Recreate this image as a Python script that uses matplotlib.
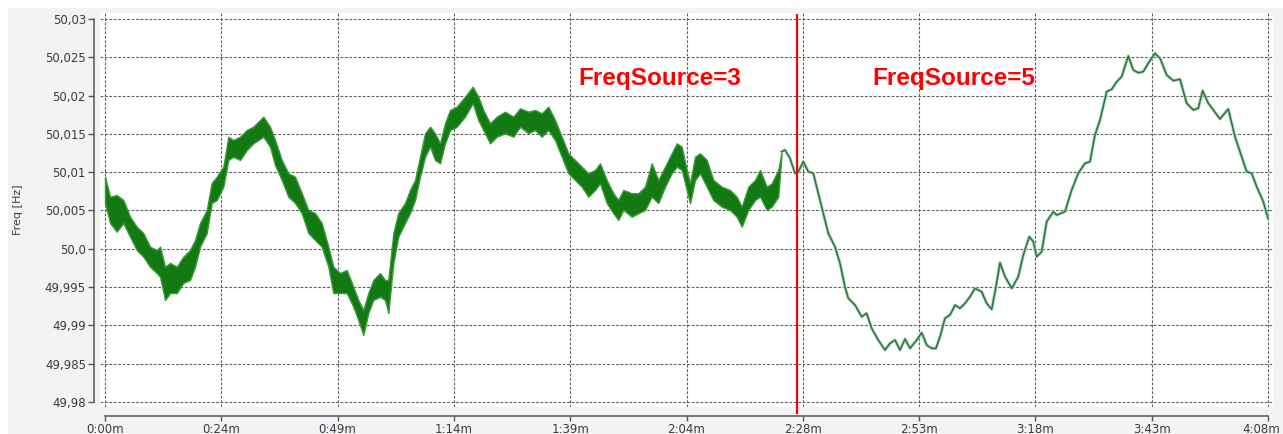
import matplotlib
matplotlib.use("Agg")
from matplotlib import pyplot as plt
from matplotlib.patches import Rectangle
from matplotlib.transforms import ScaledTranslation

# first section (FreqSource=3) is very noisy: kept as upper / lower envelope
noisy_t = [0.00, 1.07, 2.49, 3.90, 5.33, 6.76, 8.17, 9.60, 11.02, 11.73,
           12.79, 13.86, 15.29, 16.70, 18.13, 19.19, 20.26, 21.69, 22.75, 23.82,
           25.23, 26.29, 27.36, 28.79, 30.22, 31.62, 33.76, 35.18, 36.25, 37.68,
           39.09, 40.52, 41.94, 43.35, 44.78, 46.21, 47.62, 48.68, 50.11, 51.54,
           52.95, 54.01, 55.08, 56.15, 57.21, 58.64, 59.71, 60.41, 61.48, 62.54,
           63.97, 65.04, 66.11, 67.17, 68.24, 69.31, 70.37, 71.44, 72.50, 73.57,
           75.00, 76.77, 78.41, 79.60, 80.67, 82.10, 83.53, 85.30, 87.07, 88.50,
           90.27, 91.70, 93.12, 94.53, 95.96, 97.39, 98.80, 100.22, 101.65, 103.06,
           104.49, 105.55, 106.98, 108.39, 109.46, 110.52, 112.31, 113.72, 115.15, 116.58,
           117.99, 119.42, 120.84, 121.91, 122.98, 124.04, 124.75, 125.82, 126.89, 128.31,
           129.72, 131.51, 133.28, 134.70, 135.77, 137.18, 138.61, 139.68, 141.10, 142.17,
           143.57, 144.30]
noisy_hi = [50.00941, 50.00680, 50.00702, 50.00637, 50.00419, 50.00289, 50.00206, 50.00027, 49.99984, 50.00027,
            49.99766, 49.99815, 49.99766, 49.99897, 49.99984, 50.00115, 50.00337, 50.00507, 50.00859, 50.00941,
            50.01072, 50.01463, 50.01420, 50.01463, 50.01551, 50.01594, 50.01725, 50.01594, 50.01420, 50.01159,
            50.00986, 50.00941, 50.00728, 50.00507, 50.00467, 50.00337, 50.00027, 49.99766, 49.99684, 49.99723,
            49.99505, 49.99332, 49.99201, 49.99423, 49.99593, 49.99684, 49.99593, 49.99593, 50.00206, 50.00467,
            50.00598, 50.00768, 50.00898, 50.01202, 50.01508, 50.01594, 50.01508, 50.01377, 50.01638, 50.01812,
            50.01855, 50.01986, 50.02116, 50.01986, 50.01812, 50.01638, 50.01725, 50.01790, 50.01725, 50.01834,
            50.01790, 50.01812, 50.01769, 50.01855, 50.01681, 50.01463, 50.01247, 50.01159, 50.01072, 50.00986,
            50.01029, 50.01116, 50.00898, 50.00725, 50.00637, 50.00768, 50.00725, 50.00725, 50.00811, 50.01116,
            50.00898, 50.01072, 50.01247, 50.01377, 50.01333, 50.01029, 50.00855, 50.01202, 50.01247, 50.01159,
            50.00898, 50.00811, 50.00768, 50.00680, 50.00550, 50.00811, 50.00898, 50.01029, 50.00811, 50.00855,
            50.01029, 50.01268]
noisy_lo = [50.00598, 50.00337, 50.00223, 50.00337, 50.00158, 49.99984, 49.99897, 49.99766, 49.99684, 49.99636,
            49.99332, 49.99423, 49.99423, 49.99554, 49.99593, 49.99766, 50.00027, 50.00206, 50.00598, 50.00637,
            50.00811, 50.01159, 50.01202, 50.01159, 50.01290, 50.01377, 50.01463, 50.01333, 50.01094, 50.00898,
            50.00680, 50.00598, 50.00467, 50.00206, 50.00115, 50.00027, 49.99766, 49.99423, 49.99423, 49.99423,
            49.99244, 49.99070, 49.98875, 49.99162, 49.99332, 49.99375, 49.99332, 49.99162, 49.99815, 50.00158,
            50.00337, 50.00467, 50.00637, 50.00941, 50.01202, 50.01333, 50.01159, 50.01116, 50.01377, 50.01551,
            50.01594, 50.01725, 50.01900, 50.01681, 50.01551, 50.01377, 50.01463, 50.01508, 50.01463, 50.01594,
            50.01508, 50.01551, 50.01463, 50.01551, 50.01420, 50.01202, 50.00986, 50.00898, 50.00811, 50.00680,
            50.00768, 50.00855, 50.00598, 50.00464, 50.00376, 50.00507, 50.00419, 50.00464, 50.00507, 50.00680,
            50.00598, 50.00811, 50.00986, 50.01072, 50.01029, 50.00768, 50.00594, 50.00898, 50.00986, 50.00811,
            50.00637, 50.00550, 50.00507, 50.00419, 50.00289, 50.00507, 50.00637, 50.00680, 50.00507, 50.00550,
            50.00680, 50.01268]

# second section (FreqSource=5)
smooth_t = [144.30, 145.00, 146.07, 147.14, 147.84, 148.91, 149.97, 151.04, 152.10, 153.17,
            154.24, 155.66, 156.73, 157.79, 158.50, 159.93, 161.36, 162.42, 163.49, 164.90,
            166.33, 167.40, 168.46, 169.53, 170.60, 171.66, 173.09, 174.16, 175.22, 176.29,
            177.20, 178.06, 179.12, 180.19, 181.26, 182.32, 183.39, 184.45, 185.52, 186.95,
            188.01, 189.08, 190.00, 190.85, 191.92, 193.35, 194.75, 195.82, 197.10, 197.95,
            198.68, 199.74, 200.81, 202.22, 202.94, 204.71, 206.14, 207.55, 208.98, 210.04,
            211.11, 212.18, 213.60, 214.67, 215.73, 216.80, 218.21, 219.27, 220.34, 221.41,
            222.47, 223.90, 224.97, 226.40, 227.81, 229.24, 230.66, 232.07, 233.14, 234.07,
            235.27, 236.34, 237.76, 239.53, 240.96, 242.03, 243.46, 244.52, 245.59, 247.00,
            248.00]
smooth_f = [50.01268, 50.01290, 50.01181, 50.00986, 50.01007, 50.01137, 50.01007, 50.00986, 50.00725, 50.00463,
            50.00202, 50.00027, 49.99811, 49.99505, 49.99354, 49.99266, 49.99114, 49.99158, 49.98962, 49.98809,
            49.98679, 49.98766, 49.98809, 49.98679, 49.98822, 49.98701, 49.98809, 49.98905, 49.98744, 49.98701,
            49.98701, 49.98852, 49.99093, 49.99136, 49.99266, 49.99223, 49.99288, 49.99375, 49.99484, 49.99440,
            49.99288, 49.99210, 49.99505, 49.99819, 49.99636, 49.99484, 49.99636, 49.99919, 50.00158, 50.00093,
            49.99897, 49.99962, 50.00354, 50.00484, 50.00441, 50.00484, 50.00768, 50.00986, 50.01116, 50.01137,
            50.01486, 50.01681, 50.02051, 50.02082, 50.02181, 50.02247, 50.02517, 50.02334, 50.02299, 50.02312,
            50.02422, 50.02552, 50.02487, 50.02269, 50.02195, 50.02213, 50.01900, 50.01812, 50.01834, 50.02064,
            50.01900, 50.01812, 50.01695, 50.01825, 50.01463, 50.01268, 50.01007, 50.00986, 50.00811, 50.00615,
            50.00398]

switch_t = 147.6
source_labels = ["FreqSource=3", "FreqSource=5"]
source_label_t = [100.9, 163.6]
source_label_f = 50.0222

x_ticks = [0, 24.8, 49.6, 74.4, 99.2, 124.0, 148.8, 173.6, 198.4, 223.2, 248.0]
x_labels = ["0:00m", "0:24m", "0:49m", "1:14m", "1:39m", "2:04m",
            "2:28m", "2:53m", "3:18m", "3:43m", "4:08m"]
y_ticks = [49.98, 49.985, 49.99, 49.995, 50.0, 50.005, 50.01, 50.015, 50.02, 50.025, 50.03]
y_labels = ["49,98", "49,985", "49,99", "49,995", "50,0", "50,005",
            "50,01", "50,015", "50,02", "50,025", "50,03"]

fig = plt.figure(figsize=(12.83, 4.34), dpi=100)
fig.patch.set_facecolor("white")
fig.add_artist(Rectangle((8 / 1283, 0), 1, 426 / 434, transform=fig.transFigure,
                         facecolor="#f3f3f3", edgecolor="none", zorder=-10))

ax = fig.add_axes([100 / 1283, 27 / 434, 1173 / 1283, 394 / 434])
ax.set_facecolor("white")
ax.set_xlim(-1.07, 249.07)
ax.set_ylim(49.97935, 50.03078)

for side in ["top", "right"]:
    ax.spines[side].set_visible(False)
ax.spines["left"].set_position(("outward", 4.3))
ax.spines["left"].set_bounds(49.98, 50.03)
ax.spines["bottom"].set_position(("outward", 6.5))
ax.spines["bottom"].set_bounds(0, 248)
for side in ["left", "bottom"]:
    ax.spines[side].set_color("#555555")
    ax.spines[side].set_linewidth(1.1)

ax.set_xticks(x_ticks)
ax.set_xticklabels(x_labels)
ax.set_yticks(y_ticks)
ax.set_yticklabels(y_labels)
ax.tick_params(axis="y", length=4.3, width=1, color="#555555", pad=1.5,
               labelsize=8.5, labelcolor="#3a3a48")
ax.tick_params(axis="x", length=3.6, width=1, color="#555555", pad=1.2,
               labelsize=8.5, labelcolor="#3a3a48")

# last x label sits on the figure edge, nudge it inwards
last = ax.get_xticklabels()[-1]
last.set_transform(last.get_transform() + ScaledTranslation(-0.07, 0, fig.dpi_scale_trans))

ax.set_axisbelow(True)
ax.grid(True, color="#606060", linestyle=(0, (2.5, 1.5)), linewidth=0.8)

# noisy band
ax.fill_between(noisy_t, noisy_lo, noisy_hi, facecolor="#137a13",
                edgecolor="#3a983a", linewidth=1.0, zorder=3)

# smooth trace with light halo
ax.plot(smooth_t, smooth_f, color="#9ad49a", linewidth=2.2, zorder=3,
        solid_joinstyle="round")
ax.plot(smooth_t, smooth_f, color="#2b6b4a", linewidth=1.0, zorder=4,
        solid_joinstyle="round")

ax.axvline(switch_t, ymin=-0.016, ymax=0.995, color="#ff0000", linewidth=1.6,
           clip_on=False, zorder=5)

for lbl, t in zip(source_labels, source_label_t):
    ax.text(t, source_label_f, lbl, color="#ff0000", fontsize=17.5,
            fontweight="bold", family="Liberation Sans", ha="left", va="center",
            zorder=6)

fig.text(18 / 1283, 1 - 210 / 434, "Freq [Hz]", rotation=90, fontsize=8,
         color="#404040", ha="center", va="center")

fig.savefig("out.png", dpi=100)
